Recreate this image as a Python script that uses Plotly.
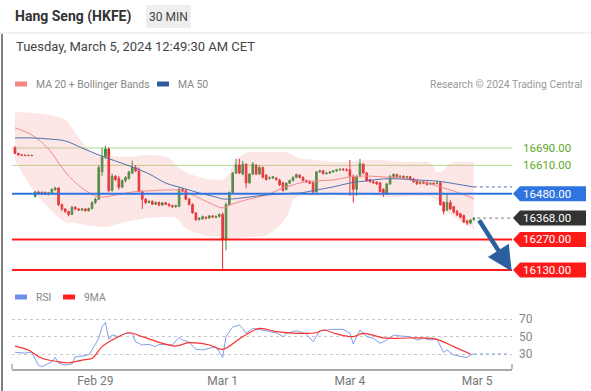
import plotly.graph_objects as go

# ---------------- data ----------------
opens = [16690,16665,16658,16657,16655,16656,16468,16488,16482,16486,16478,16484,16498,16506,16430,16410,16398,16385,16418,16410,
         16405,16410,16402,16412,16440,16455,16580,16650,16685,16495,16560,16550,16510,16540,16550,16575,16600,16585,16490,16455,
         16440,16445,16432,16440,16428,16438,16432,16425,16420,16422,16500,16495,16455,16430,16392,16362,16365,16372,16368,16378,
         16372,16376,16385,16270,16430,16485,16575,16612,16570,16615,16530,16570,16610,16570,16600,16565,16550,16552,16552,16543,
         16530,16500,16528,16540,16555,16565,16555,16540,16538,16530,16488,16580,16585,16572,16575,16580,16585,16590,16592,16590,
         16590,16560,16500,16565,16615,16575,16545,16535,16532,16530,16500,16478,16525,16560,16568,16558,16560,16556,16558,16548,
         16540,16528,16535,16532,16525,16528,16528,16530,16440,16405,16440,16420,16400,16388,16380,16355,16345,16362]
highs = [16698,16668,16662,16660,16659,16658,16492,16494,16490,16490,16488,16504,16512,16510,16434,16414,16402,16424,16422,16414,
         16414,16414,16416,16445,16462,16612,16690,16700,16692,16572,16566,16562,16545,16560,16585,16632,16612,16600,16495,16460,
         16450,16450,16444,16444,16442,16442,16436,16430,16430,16510,16506,16500,16460,16436,16396,16372,16380,16376,16382,16382,
         16380,16390,16395,16440,16490,16580,16640,16640,16630,16620,16575,16625,16615,16610,16605,16570,16560,16562,16556,16548,
         16535,16532,16545,16560,16572,16570,16560,16545,16542,16535,16585,16590,16590,16580,16584,16588,16594,16596,16598,16596,
         16635,16568,16565,16640,16620,16580,16550,16542,16538,16534,16505,16530,16565,16574,16572,16565,16564,16562,16560,16552,
         16544,16536,16538,16536,16532,16532,16534,16534,16445,16478,16450,16424,16404,16392,16384,16360,16362,16372]
lows = [16662,16655,16654,16653,16652,16652,16462,16478,16476,16474,16472,16480,16494,16422,16400,16392,16376,16382,16405,16400,
        16400,16398,16398,16408,16432,16450,16560,16640,16486,16490,16538,16498,16505,16532,16545,16570,16580,16486,16410,16432,
        16436,16428,16428,16422,16424,16428,16420,16415,16415,16418,16486,16450,16426,16388,16356,16356,16360,16362,16364,16368,
        16366,16370,16130,16220,16425,16480,16570,16570,16565,16505,16525,16565,16565,16565,16550,16540,16545,16548,16540,16515,
        16490,16495,16524,16536,16550,16550,16536,16530,16524,16480,16485,16575,16568,16568,16570,16576,16580,16584,16585,16582,
        16470,16440,16470,16555,16570,16535,16530,16526,16520,16486,16465,16474,16520,16555,16554,16552,16550,16550,16540,16530,
        16520,16522,16524,16518,16520,16520,16522,16425,16385,16400,16405,16390,16378,16368,16345,16335,16340,16355]
closes = [16665,16658,16657,16655,16656,16655,16488,16482,16486,16478,16484,16500,16506,16430,16410,16398,16385,16418,16410,16405,
          16410,16402,16412,16440,16455,16600,16650,16685,16495,16560,16545,16510,16540,16555,16580,16600,16585,16490,16455,16440,
          16445,16432,16440,16428,16438,16432,16425,16420,16425,16500,16492,16455,16430,16392,16360,16368,16375,16368,16378,16374,
          16376,16385,16270,16430,16485,16575,16612,16575,16615,16530,16570,16615,16570,16600,16555,16545,16552,16558,16545,16520,
          16495,16528,16540,16555,16568,16555,16540,16535,16528,16488,16580,16585,16572,16575,16580,16585,16590,16592,16590,16588,
          16560,16500,16560,16618,16575,16540,16535,16530,16525,16490,16480,16525,16560,16568,16558,16560,16556,16558,16545,16535,
          16525,16532,16528,16522,16528,16525,16530,16430,16400,16440,16410,16395,16382,16372,16350,16345,16360,16368]
candle_idx = list(range(len(closes)))

band_idx = [0,5,10,15,18,23,27,33,40,46,48,51,55,60,63,66,69,75,80,82,83,85,90,95,100,105,110,115,120,124,126,128,130,135,137]
bb_upper = [16855,16851,16841,16819,16759,16672,16658,16649,16658,16644,16612,16580,16557,16543,16552,16635,16667,16672,16672,16667,
            16658,16644,16635,16626,16626,16635,16635,16626,16626,16621,16580,16589,16621,16626,16626]
bb_lower = [16635,16506,16415,16350,16346,16332,16327,16350,16369,16373,16369,16323,16295,16281,16277,16277,16281,16291,16350,16405,
            16451,16470,16470,16474,16470,16474,16465,16465,16470,16465,16451,16405,16382,16337,16314]

ma_idx = [0,5,10,15,20,25,30,35,40,45,50,55,60,62,65,70,75,80,83,85,90,95,100,105,110,115,120,125,128,130,135,137]
ma20 = [16782,16750,16685,16580,16506,16465,16474,16488,16493,16497,16493,16460,16424,16415,16433,16456,16474,16506,16520,16529,
        16539,16543,16557,16561,16557,16552,16539,16520,16506,16497,16470,16456]
ma50 = [16736,16736,16731,16722,16690,16658,16630,16603,16571,16529,16506,16483,16465,16456,16456,16465,16474,16479,16483,16483,
        16497,16511,16529,16539,16548,16548,16543,16539,16534,16529,16516,16511]

rsi_idx = [0,3,5,7,8,10,11,12,13,15,17,18,19,22,23,25,26,27,28,29,31,33,35,36,38,40,42,43,45,47,49,50,52,54,56,58,60,62,63,65,
           67,68,69,71,74,78,80,81,84,87,89,91,95,98,100,101,103,105,107,109,111,113,115,118,120,122,124,126,128,129,131,134,135,136,137]
rsi_vals = [32,31,32,17,15.5,19.7,21,26,19.7,17.4,18.6,27,27,29,34.6,48,61,66,47,51.7,49.8,53.6,53.6,44,40.3,41,38.4,41,40.3,40.3,
            49,46,43.4,35.3,34.6,36.5,38.4,26.2,49.8,61,63,59.3,53.6,59.3,57.4,54.3,49.8,53.6,56.6,52.9,44,56.6,58.2,58.2,53.6,41.4,
            57.4,49.8,47.9,42.2,46,51.7,50.6,49.8,46,47.9,46,46.8,31.8,34.6,28.9,26.9,25.8,28.9,30]
ma9_idx = [0,4,8,13,16,20,23,26,30,34,38,44,48,52,58,62,68,73,78,84,90,92,96,101,104,110,115,120,126,131,136]
ma9_vals = [39.1,34.6,25.1,21.2,20,23.1,25.1,38.4,47.9,54.3,49.8,42.2,39.1,42.9,40.3,35.3,49.8,59.3,55.5,53.6,54.3,57.4,52.9,49.8,
            53.6,48.5,48,48.5,46.8,38.4,30]

day_ticks = [24, 62, 100, 138]
day_labels = ["Feb 29", "Mar 1", "Mar 4", "Mar 5"]

target_levels = [16690, 16610]
pivot_level = 16480
last_level = 16368
support_levels = [16270, 16130]
rsi_levels = [30, 50, 70]

# ---------------- layout helpers ----------------
W, H = 591, 391
def px(x): return x / W
def py(y): return 1 - y / H

X_LO, X_HI = -0.9, 148.4
Y_LO, Y_HI = 16061, 16910
MAIN_TOP, MAIN_BOT = 100, 285
PPP = (Y_HI - Y_LO) / (MAIN_BOT - MAIN_TOP)  # price units per pixel
FONT = "Roboto, Arial, sans-serif"

fig = go.Figure()

# Bollinger band
fig.add_trace(go.Scatter(x=band_idx, y=bb_upper, mode="lines", line=dict(width=0, shape="spline"),
                         hoverinfo="skip", xaxis="x", yaxis="y"))
fig.add_trace(go.Scatter(x=band_idx, y=bb_lower, mode="lines", line=dict(width=0, shape="spline"),
                         fill="tonexty", fillcolor="rgba(245,140,140,0.22)", hoverinfo="skip", xaxis="x", yaxis="y"))
# MAs
fig.add_trace(go.Scatter(x=ma_idx, y=ma20, mode="lines", line=dict(color="#f28a8a", width=1, shape="spline"),
                         xaxis="x", yaxis="y"))
fig.add_trace(go.Scatter(x=ma_idx, y=ma50, mode="lines", line=dict(color="#4f72ad", width=1, shape="spline"),
                         xaxis="x", yaxis="y"))
fig.add_trace(go.Scatter(x=[ma_idx[-1], X_HI], y=[ma50[-1], ma50[-1]], mode="lines",
                         line=dict(color="#4f72ad", width=1, dash="dot"), xaxis="x", yaxis="y"))
fig.add_trace(go.Scatter(x=[candle_idx[-1] + 1, X_HI], y=[closes[-1], closes[-1]], mode="lines",
                         line=dict(color="#777777", width=1, dash="dot"), xaxis="x", yaxis="y"))

# candles
fig.add_trace(go.Candlestick(x=candle_idx, open=opens, high=highs, low=lows, close=closes,
                             increasing=dict(fillcolor="#2e8b35", line=dict(color="#2e8b35", width=1)),
                             decreasing=dict(fillcolor="#e3222a", line=dict(color="#e3222a", width=1)),
                             whiskerwidth=0, xaxis="x", yaxis="y"))

# RSI panel
fig.add_trace(go.Scatter(x=rsi_idx, y=rsi_vals, mode="lines", line=dict(color="#7f9ee9", width=1),
                         xaxis="x", yaxis="y2"))
fig.add_trace(go.Scatter(x=[rsi_idx[-1], 147.5], y=[rsi_vals[-1], rsi_vals[-1]], mode="lines",
                         line=dict(color="#7f9ee9", width=1, dash="dot"), xaxis="x", yaxis="y2"))
fig.add_trace(go.Scatter(x=ma9_idx, y=ma9_vals, mode="lines", line=dict(color="#ff3030", width=1.2, shape="spline"),
                         xaxis="x", yaxis="y2"))

shapes = []
annotations = []

# header
shapes.append(dict(type="rect", xref="paper", yref="paper", x0=px(146), x1=px(191), y0=py(28), y1=py(5),
                   fillcolor="#eeeeee", line=dict(width=0), layer="below"))
shapes.append(dict(type="line", xref="paper", yref="paper", x0=0, x1=1, y0=py(33), y1=py(33),
                   line=dict(color="#e4e4e4", width=1)))
shapes.append(dict(type="line", xref="paper", yref="paper", x0=px(2), x1=px(2), y0=py(34), y1=0,
                   line=dict(color="#555555", width=1.5)))
annotations.append(dict(text="<b>Hang Seng (HKFE)</b>", x=px(13), y=py(17), xref="paper", yref="paper",
                        xanchor="left", yanchor="middle", showarrow=False, font=dict(size=14, color="#333333")))
annotations.append(dict(text="30 MIN", x=px(168.5), y=py(17), xref="paper", yref="paper",
                        xanchor="center", yanchor="middle", showarrow=False, font=dict(size=12, color="#444444")))
annotations.append(dict(text="Tuesday, March 5, 2024 12:49:30 AM CET", x=px(14), y=py(46), xref="paper", yref="paper",
                        xanchor="left", yanchor="middle", showarrow=False, font=dict(size=13, color="#444444")))

# legends
def swatch(x0, y, color):
    shapes.append(dict(type="rect", xref="paper", yref="paper", x0=px(x0), x1=px(x0 + 12), y0=py(y + 2.5), y1=py(y - 2.5),
                       fillcolor=color, line=dict(width=0)))
def label(text, x, y, color="#888888", size=10.4, anchor="left"):
    annotations.append(dict(text=text, x=px(x), y=py(y), xref="paper", yref="paper", xanchor=anchor, yanchor="middle",
                            showarrow=False, font=dict(size=size, color=color)))
swatch(15, 84, "#f68686"); label("MA 20 + Bollinger Bands", 34, 84)
swatch(157, 84, "#2f5d9c"); label("MA 50", 176, 84)
label("Research © 2024 Trading Central", 584, 84, color="#999999", anchor="right")
swatch(15, 297, "#6d8fe6"); label("RSI", 34, 297)
swatch(63, 297, "#ff2020"); label("9MA", 82, 297)

# level lines
for lv in target_levels:
    shapes.append(dict(type="line", xref="paper", yref="y", x0=px(12), x1=px(512), y0=lv, y1=lv,
                       line=dict(color="#b3da95", width=1), layer="below"))
    annotations.append(dict(text=f"{lv:.2f}", x=px(521), y=lv, xref="paper", yref="y", xanchor="left",
                            yanchor="middle", showarrow=False, font=dict(size=11.5, color="#5fa829")))
shapes.append(dict(type="line", xref="paper", yref="y", x0=px(12), x1=px(512), y0=pivot_level, y1=pivot_level,
                   line=dict(color="#2f74e0", width=2)))
for lv in support_levels:
    shapes.append(dict(type="line", xref="paper", yref="y", x0=px(12), x1=px(512), y0=lv, y1=lv,
                       line=dict(color="#ff1a1a", width=2)))

def tag(level, fill):
    h = 7.5 * PPP
    path = (f"M {px(513)},{level} L {px(520)},{level + h} L {px(586)},{level + h} "
            f"L {px(586)},{level - h} L {px(520)},{level - h} Z")
    shapes.append(dict(type="path", xref="paper", yref="y", path=path, fillcolor=fill, line=dict(width=0)))
    annotations.append(dict(text=f"{level:.2f}", x=px(521), y=level, xref="paper", yref="y", xanchor="left",
                            yanchor="middle", showarrow=False, font=dict(size=11.5, color="white")))
tag(pivot_level, "#2f74e0")
tag(last_level, "#333333")
for lv in support_levels:
    tag(lv, "#ff1a1a")

# forecast arrow
annotations.append(dict(x=148.3, y=support_levels[-1] - 6, ax=candle_idx[-1] + 1.3, ay=closes[-1] - 3,
                        xref="x", yref="y", axref="x", ayref="y", showarrow=True, arrowhead=2,
                        arrowsize=1.1, arrowwidth=4.5, arrowcolor="#2c5f9e", text=""))

# x-axis end ticks
for xe in (12, 512):
    shapes.append(dict(type="line", xref="paper", yref="paper", x0=px(xe), x1=px(xe), y0=py(369), y1=py(364),
                       line=dict(color="#aaaaaa", width=1.5)))

fig.update_layout(
    width=W, height=H, margin=dict(l=0, r=0, t=0, b=0),
    paper_bgcolor="white", plot_bgcolor="white", showlegend=False,
    font=dict(family=FONT),
    xaxis=dict(domain=[px(12), px(512)], range=[X_LO, X_HI], anchor="y2", tickvals=day_ticks, ticktext=day_labels,
               showline=True, linecolor="#aaaaaa", linewidth=1.5, showgrid=False, zeroline=False, ticks="",
               tickfont=dict(size=12, color="#777777"), rangeslider=dict(visible=False)),
    yaxis=dict(domain=[py(MAIN_BOT), py(MAIN_TOP)], range=[Y_LO, Y_HI], visible=False),
    yaxis2=dict(domain=[py(369), py(305)], range=[12.86, 86], side="right", anchor="x", tickvals=rsi_levels,
                showgrid=True, griddash="dot", gridcolor="#c8c8c8", gridwidth=1, ticks="", zeroline=False,
                showline=False, tickfont=dict(size=12, color="#888888"), ticklabelstandoff=6),
    shapes=shapes, annotations=annotations,
)

fig.write_html("out.html", config={"displayModeBar": False},
               post_script="document.body.style.margin='0';document.body.style.overflow='hidden';")
